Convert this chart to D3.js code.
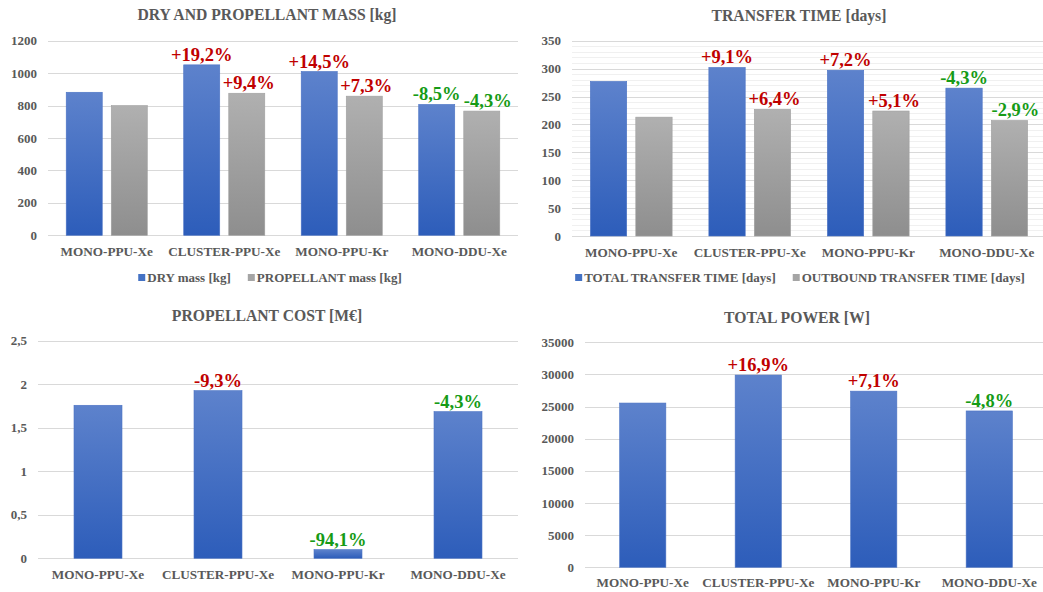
<!DOCTYPE html>
<html>
<head>
<meta charset="utf-8">
<script src="https://cdn.jsdelivr.net/npm/d3@7"></script>
<style>
  body { margin: 0; background: #fff; }
  svg { font-family: "Liberation Serif", "Times New Roman", serif; }
  .title { font-size: 15.7px; font-weight: bold; fill: #595959; }
  .tick-label { font-size: 13px; font-weight: bold; fill: #595959; }
  .cat-label { font-size: 13.2px; font-weight: bold; fill: #595959; }
  .legend-label { font-size: 13px; font-weight: bold; fill: #595959; }
  .pct { font-size: 18.5px; font-weight: bold; }
</style>
</head>
<body>
<svg id="chart" width="1043" height="592"></svg>
<script>
// categories shared by all four panels
var categories = ['MONO-PPU-Xe', 'CLUSTER-PPU-Xe', 'MONO-PPU-Kr', 'MONO-DDU-Xe'];

var RED = '#c00000', GREEN = '#169b16';

// panel 1: dry and propellant mass [kg]
var dryMass = [882, 1051, 1010, 807];
var propellantMass = [800, 876, 858, 766];
var dryMassPct = ['', '+19,2%', '+14,5%', '-8,5%'];
var propellantMassPct = ['', '+9,4%', '+7,3%', '-4,3%'];
var massPctColors = ['', RED, RED, GREEN];
var massTicks = [0, 200, 400, 600, 800, 1000, 1200];

// panel 2: transfer time [days]
var totalTime = [277, 302, 297, 265];
var outboundTime = [213, 227, 224, 207];
var totalTimePct = ['', '+9,1%', '+7,2%', '-4,3%'];
var outboundTimePct = ['', '+6,4%', '+5,1%', '-2,9%'];
var timePctColors = ['', RED, RED, GREEN];
var timeTicks = [0, 50, 100, 150, 200, 250, 300, 350];

// panel 3: propellant cost [M€]
var propCost = [1.758, 1.926, 0.10, 1.685];
var propCostPct = ['', '-9,3%', '-94,1%', '-4,3%'];
var costPctColors = ['', RED, GREEN, GREEN];
var costTicks = [0, 0.5, 1, 1.5, 2, 2.5];

// panel 4: total power [W]
var totalPower = [25550, 29900, 27400, 24320];
var totalPowerPct = ['', '+16,9%', '+7,1%', '-4,8%'];
var powerPctColors = ['', RED, RED, GREEN];
var powerTicks = [0, 5000, 10000, 15000, 20000, 25000, 30000, 35000];

var svg = d3.select('#chart');

// gradients for the bars
var defs = svg.append('defs');
function gradient(id, top, bottom) {
    var g = defs.append('linearGradient').attr('id', id)
        .attr('x1', 0).attr('y1', 0).attr('x2', 0).attr('y2', 1);
    g.append('stop').attr('offset', '0%').attr('stop-color', top);
    g.append('stop').attr('offset', '100%').attr('stop-color', bottom);
}
gradient('blueGrad', '#5d82cc', '#2d5dba');
gradient('grayGrad', '#b0b0b0', '#8e8e8e');

function commaFmt(v) { return String(v).replace('.', ','); }

function drawPanel(o) {
    var g = svg.append('g');

    var y = d3.scaleLinear()
        .domain([0, o.max])
        .range([o.y0, o.y1]);

    var x0 = d3.scaleBand()
        .domain(categories)
        .range([o.xl, o.xr])
        .paddingInner(o.pad)
        .paddingOuter(o.pad / 2);

    // minor gridlines
    if (o.minor) {
        g.append('g').selectAll('line')
            .data(d3.range(0, o.max + 0.001, o.minor))
            .enter().append('line')
            .attr('x1', o.xl).attr('x2', o.xr)
            .attr('y1', function (d) { return Math.round(y(d)) + 0.5; })
            .attr('y2', function (d) { return Math.round(y(d)) + 0.5; })
            .style('stroke', '#f0f0f0');
    }

    // major gridlines
    g.append('g').selectAll('line')
        .data(o.ticks)
        .enter().append('line')
        .attr('x1', o.xl).attr('x2', o.xr)
        .attr('y1', function (d) { return Math.round(y(d)) + 0.5; })
        .attr('y2', function (d) { return Math.round(y(d)) + 0.5; })
        .style('stroke', '#d9d9d9')
        .style('stroke-width', 1.2);

    // y tick labels
    g.append('g').selectAll('text')
        .data(o.ticks)
        .enter().append('text')
        .attr('class', 'tick-label')
        .attr('x', o.xl - 11)
        .attr('y', function (d) { return y(d) + 4.5; })
        .attr('text-anchor', 'end')
        .text(o.fmt || function (d) { return d; });

    // bars
    var x1 = d3.scaleBand()
        .domain(d3.range(o.series.length))
        .range([0, x0.bandwidth()])
        .paddingInner(0.2);

    o.series.forEach(function (s, si) {
        var bars = g.append('g');
        bars.selectAll('rect')
            .data(s.values)
            .enter().append('rect')
            .attr('x', function (d, i) { return x0(categories[i]) + x1(si); })
            .attr('y', function (d) { return y(d); })
            .attr('width', x1.bandwidth())
            .attr('height', function (d) { return y(0) - y(d); })
            .style('fill', 'url(#' + s.grad + ')')
            .style('stroke', s.edge)
            .style('stroke-width', 0.6);

        bars.selectAll('text')
            .data(s.pct)
            .enter().append('text')
            .attr('class', 'pct')
            .attr('x', function (d, i) { return x0(categories[i]) + x1(si) + x1.bandwidth() / 2 + (s.dx ? s.dx[i] : 0); })
            .attr('y', function (d, i) { return y(s.values[i]) - 4; })
            .attr('text-anchor', 'middle')
            .style('fill', function (d, i) { return o.pctColors[i]; })
            .text(function (d) { return d; });
    });

    // category labels
    g.append('g').selectAll('text')
        .data(categories)
        .enter().append('text')
        .attr('class', 'cat-label')
        .attr('x', function (d) { return x0(d) + x0.bandwidth() / 2; })
        .attr('y', o.catY)
        .attr('text-anchor', 'middle')
        .text(function (d) { return d; });

    // title
    g.append('text')
        .attr('class', 'title')
        .attr('x', o.titleX)
        .attr('y', o.titleY)
        .attr('text-anchor', 'middle')
        .text(o.title);

    // legend
    if (o.legend) {
        var leg = g.append('g');
        var cx = 0;
        o.series.forEach(function (s) {
            leg.append('rect')
                .attr('x', cx).attr('y', -8)
                .attr('width', 7).attr('height', 7)
                .style('fill', s.swatch);
            var t = leg.append('text')
                .attr('class', 'legend-label')
                .attr('x', cx + 9).attr('y', 0)
                .text(s.name);
            cx += 9 + t.node().getComputedTextLength() + 17;
        });
        var w = cx - 17;
        leg.attr('transform', 'translate(' + (o.legendX - w / 2) + ',' + o.legendY + ')');
    }
}

drawPanel({
    title: 'DRY AND PROPELLANT MASS [kg]', titleX: 267, titleY: 20,
    max: 1200, ticks: massTicks, y0: 235.3, y1: 40.7, xl: 48, xr: 518, pad: 0.31,
    catY: 255.5, legend: true, legendX: 270, legendY: 282, pctColors: massPctColors,
    series: [
        { name: 'DRY mass [kg]', values: dryMass, pct: dryMassPct, grad: 'blueGrad', edge: '#4a72c4', swatch: '#4472c4' },
        { name: 'PROPELLANT mass [kg]', values: propellantMass, pct: propellantMassPct, grad: 'grayGrad', edge: '#a0a0a0', swatch: '#a5a5a5', dx: [0, 2, 2, 6] }
    ]
});

drawPanel({
    title: 'TRANSFER TIME [days]', titleX: 799, titleY: 21,
    max: 350, ticks: timeTicks, minor: 10, y0: 236, y1: 40.7, xl: 572, xr: 1046, pad: 0.31,
    catY: 256.5, legend: true, legendX: 800, legendY: 282, pctColors: timePctColors,
    series: [
        { name: 'TOTAL TRANSFER TIME [days]', values: totalTime, pct: totalTimePct, grad: 'blueGrad', edge: '#4a72c4', swatch: '#4472c4' },
        { name: 'OUTBOUND TRANSFER TIME [days]', values: outboundTime, pct: outboundTimePct, grad: 'grayGrad', edge: '#a0a0a0', swatch: '#a5a5a5', dx: [0, 2, 3, 6] }
    ]
});

drawPanel({
    title: 'PROPELLANT COST [M€]', titleX: 267, titleY: 321,
    max: 2.5, ticks: costTicks, y0: 558.3, y1: 340.7, xl: 38, xr: 518, pad: 0.5,
    catY: 578.5, fmt: commaFmt, pctColors: costPctColors,
    series: [
        { name: 'PROPELLANT COST [M€]', values: propCost, pct: propCostPct, grad: 'blueGrad', edge: '#4a72c4', swatch: '#4472c4' }
    ]
});

drawPanel({
    title: 'TOTAL POWER [W]', titleX: 797, titleY: 323,
    max: 35000, ticks: powerTicks, y0: 567.3, y1: 342.3, xl: 585, xr: 1047, pad: 0.5,
    catY: 586.5, pctColors: powerPctColors,
    series: [
        { name: 'TOTAL POWER [W]', values: totalPower, pct: totalPowerPct, grad: 'blueGrad', edge: '#4a72c4', swatch: '#4472c4' }
    ]
});
</script>
</body>
</html>
